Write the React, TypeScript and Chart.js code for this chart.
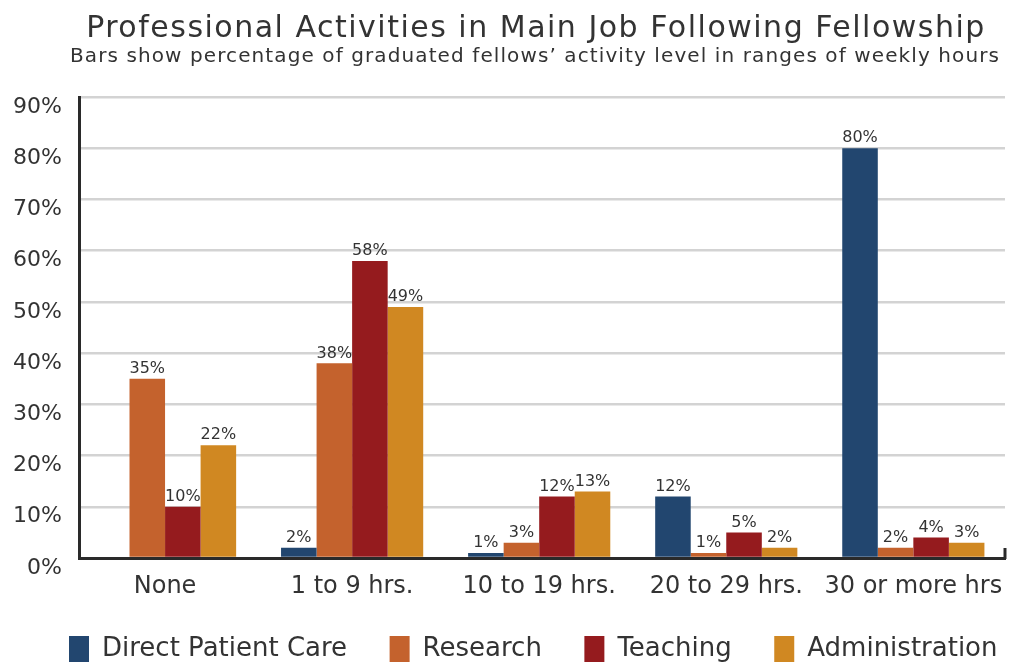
import React, { useEffect, useRef } from "react";
import { Chart, registerables } from "chart.js";

Chart.register(...registerables);

const categories = ["None", "1 to 9 hrs.", "10 to 19 hrs.", "20 to 29 hrs.", "30 or more hrs"];
const directPatientCare = [0, 2, 1, 12, 80];
const research = [35, 38, 3, 1, 2];
const teaching = [10, 58, 12, 5, 4];
const administration = [22, 49, 13, 2, 3];
const seriesNames = ["Direct Patient Care", "Research", "Teaching", "Administration"];
const seriesColors = ["#22466f", "#c4622d", "#951b1e", "#d08822"];
const yTicks = [0, 10, 20, 30, 40, 50, 60, 70, 80, 90];
const titleText = "Professional Activities in Main Job Following Fellowship";
const subtitleText = "Bars show percentage of graduated fellows\u2019 activity level in ranges of weekly hours";

const FONT = "'DejaVu Sans', sans-serif";
const TEXT = "#333333";

const titles = {
  id: "titles",
  afterDraw(chart: any) {
    const ctx = chart.ctx;
    ctx.save();
    ctx.fillStyle = TEXT;
    ctx.textAlign = "center";
    ctx.textBaseline = "alphabetic";
    ctx.font = `30px ${FONT}`;
    ctx.letterSpacing = "1.5px";
    ctx.fillText(titleText, 536, 37);
    ctx.font = `20px ${FONT}`;
    ctx.letterSpacing = "1.1px";
    ctx.fillText(subtitleText, 535, 62);
    ctx.letterSpacing = "0px";
    ctx.restore();
  },
};

const valueLabels = {
  id: "valueLabels",
  afterDatasetsDraw(chart: any) {
    const ctx = chart.ctx;
    ctx.save();
    ctx.font = `16px ${FONT}`;
    ctx.fillStyle = TEXT;
    ctx.textAlign = "center";
    ctx.textBaseline = "bottom";
    chart.data.datasets.forEach((ds: any, i: number) => {
      const meta = chart.getDatasetMeta(i);
      meta.data.forEach((el: any, j: number) => {
        const v = ds.data[j].y;
        if (v > 0) ctx.fillText(`${v}%`, el.x, el.y - 2);
      });
    });
    ctx.restore();
  },
};

const axisEnd = {
  id: "axisEnd",
  afterDraw(chart: any) {
    const { ctx, chartArea } = chart;
    ctx.save();
    ctx.strokeStyle = "#2a2a2a";
    ctx.lineWidth = 3;
    ctx.beginPath();
    ctx.moveTo(chartArea.right, chartArea.bottom - 10);
    ctx.lineTo(chartArea.right, chartArea.bottom + 1);
    ctx.stroke();
    ctx.restore();
  },
};

const legendShift = {
  id: "legendShift",
  afterLayout(chart: any) {
    const l = chart.legend;
    if (l) {
      l.top -= 10.5;
      l.bottom = chart.height;
    }
  },
};

export default function App() {
  const ref = useRef<HTMLCanvasElement>(null);
  useEffect(() => {
    if (!ref.current) return;
    const series = [directPatientCare, research, teaching, administration];
    const chart = new Chart(ref.current, {
      type: "bar",
      data: {
        datasets: series.map((s, i) => ({
          label: seriesNames[i],
          data: s.map((v, j) => ({ x: j, y: v })),
          backgroundColor: seriesColors[i],
          borderWidth: 0,
          categoryPercentage: 0.76,
          barPercentage: 1,
        })),
      },
      options: {
        animation: false,
        responsive: false,
        devicePixelRatio: 1,
        layout: { padding: { left: 0, right: 0, top: 97, bottom: 0 } },
        plugins: {
          title: { display: false },
          subtitle: { display: false },
          legend: {
            position: "bottom",
            align: "end",
            maxHeight: 61,
            labels: {
              color: TEXT,
              font: { family: FONT, size: 26 },
              boxWidth: 20,
              boxHeight: 26,
              padding: 42.5,
            },
          },
          tooltip: { enabled: false },
        },
        scales: {
          x: {
            type: "linear",
            offset: false,
            min: -0.46,
            max: 4.49,
            grid: { display: false, drawTicks: false },
            border: { display: true, color: "#2a2a2a", width: 3 },
            ticks: {
              stepSize: 1,
              includeBounds: false,
              color: TEXT,
              font: { family: FONT, size: 24 },
              padding: 14,
              maxRotation: 0,
              autoSkip: false,
              callback: (v: any) => (Number.isInteger(v) ? categories[v] ?? "" : ""),
            },
            afterBuildTicks: (scale: any) => {
              scale.ticks = scale.ticks.filter((t: any) => Number.isInteger(t.value));
            },
            afterFit: (scale: any) => {
              scale.height = 46;
            },
          },
          y: {
            min: 0,
            max: 90,
            grid: { color: "#d3d3d3", lineWidth: 2.5, drawTicks: false },
            border: { display: true, color: "#2a2a2a", width: 3 },
            ticks: {
              stepSize: 10,
              color: TEXT,
              font: { family: FONT, size: 22 },
              padding: 17,
              labelOffset: 10,
              callback: (v: any) => `${v}%`,
            },
            afterBuildTicks: (scale: any) => {
              scale.ticks = yTicks.map((v) => ({ value: v }));
            },
            afterFit: (scale: any) => {
              scale.width = 79;
            },
          },
          spacer: {
            type: "linear",
            position: "right",
            display: true,
            grid: { display: false, drawTicks: false },
            border: { display: false },
            ticks: { display: false },
            afterFit: (scale: any) => {
              scale.width = 35;
            },
          },
        },
      },
      plugins: [valueLabels, axisEnd, legendShift, titles],
    });
    return () => chart.destroy();
  }, []);
  return (
    <div style={{ position: "absolute", left: 12, top: 0, width: 1004, height: 665, overflow: "hidden", background: "#fff" }}>
      <canvas ref={ref} width={1040} height={665} style={{ position: "absolute", left: -12, top: 0 }} />
    </div>
  );
}
